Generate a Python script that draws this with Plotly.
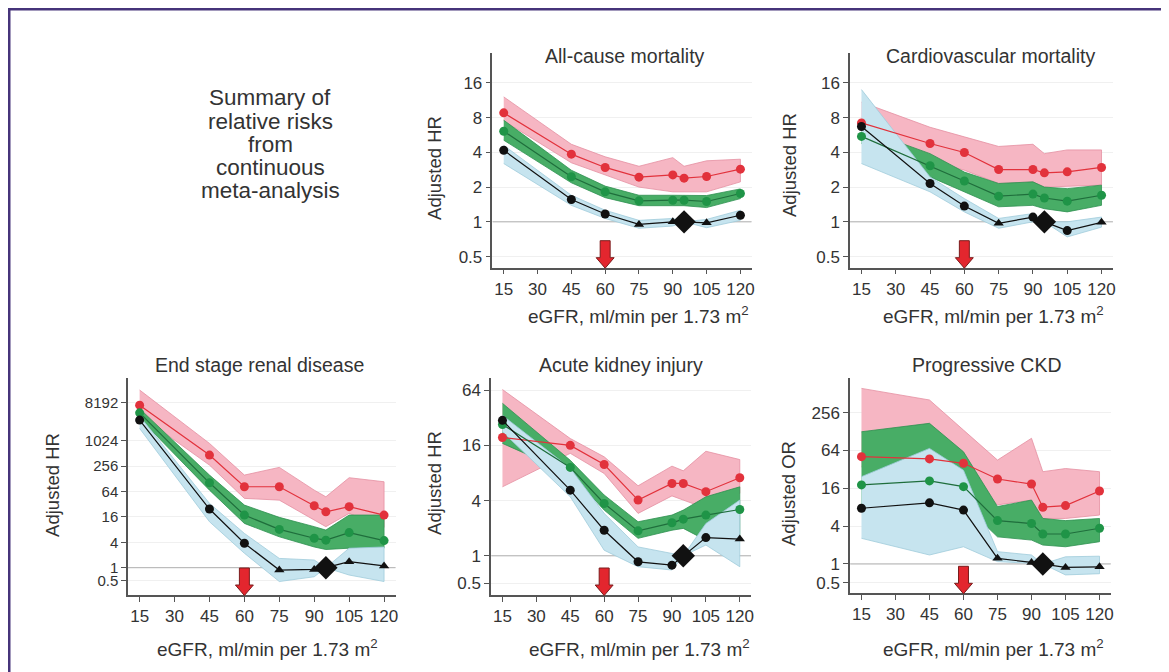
import math
import plotly.graph_objects as go

W, H = 1169, 672
OFF = 8  # page margin around the figure in the browser

# ---------------- data ----------------
egfr = [15, 45, 60, 75, 90, 95, 105, 120]
xtick_vals = [15, 30, 45, 60, 75, 90, 105, 120]
threshold = 60
reference_hr = 1

# All-cause mortality
acm_red = [8.8, 3.86, 2.96, 2.44, 2.55, 2.39, 2.47, 2.86]
acm_red_hi = [12.1, 4.7, 3.66, 3.03, 3.6, 3.03, 3.38, 3.49]
acm_red_lo = [7.5, 3.25, 2.54, 2.0, 1.82, 1.82, 1.82, 2.22]
acm_green = [6.1, 2.46, 1.82, 1.52, 1.54, 1.54, 1.5, 1.76]
acm_green_hi = [7.6, 2.8, 2.04, 1.7, 1.7, 1.7, 1.69, 1.93]
acm_green_lo = [5.1, 2.18, 1.62, 1.38, 1.38, 1.38, 1.33, 1.59]
acm_black = [4.17, 1.56, 1.17, 0.95, 1.0, 1.0, 0.98, 1.14]
acm_black_hi = [4.6, 1.7, 1.26, 1.03, 1.07, 1.0, 1.05, 1.26]
acm_black_lo = [3.2, 1.39, 1.07, 0.88, 0.92, 1.0, 0.89, 1.03]
acm_black_sig = [1, 1, 1, 0, 0, 2, 0, 1]

# Cardiovascular mortality
cvm_red = [7.2, 4.77, 3.99, 2.84, 2.84, 2.66, 2.71, 2.96]
cvm_red_hi = [10.9, 6.6, 5.45, 4.5, 4.7, 3.9, 4.2, 4.2]
cvm_red_lo = [6.0, 3.4, 2.8, 2.15, 2.22, 2.0, 2.03, 2.08]
cvm_green = [5.5, 3.06, 2.26, 1.67, 1.74, 1.61, 1.51, 1.7]
cvm_green_hi = [6.4, 3.9, 2.7, 2.15, 2.22, 2.0, 1.94, 2.08]
cvm_green_lo = [4.77, 2.45, 1.82, 1.35, 1.39, 1.3, 1.22, 1.39]
cvm_black = [6.7, 2.15, 1.37, 0.97, 1.1, 1.0, 0.84, 0.99]
cvm_black_hi = [14.0, 2.45, 1.59, 1.07, 1.18, 1.0, 1.0, 1.1]
cvm_black_lo = [3.2, 1.82, 1.22, 0.88, 1.0, 1.0, 0.74, 0.9]
cvm_black_sig = [1, 1, 1, 0, 1, 2, 1, 0]

# End stage renal disease
esrd_red = [7131, 468, 83, 83, 29.5, 21.2, 28, 17.7]
esrd_red_hi = [16300, 885, 157, 239, 69, 48, 136, 109]
esrd_red_lo = [4100, 271, 44, 40, 13.5, 9.4, 19.4, 9]
esrd_green = [4700, 103, 17.7, 8.1, 5.0, 4.5, 6.8, 4.4]
esrd_green_hi = [5900, 157, 30.5, 15.6, 9.4, 7.8, 17.7, 17.7]
esrd_green_lo = [3470, 69, 11.2, 5.4, 3.1, 2.7, 2.9, 2.9]
esrd_black = [3160, 24.6, 3.8, 0.88, 0.91, 1.0, 1.39, 1.1]
esrd_black_hi = [3930, 33.5, 6.5, 1.66, 1.52, 1.0, 2.9, 3.1]
esrd_black_lo = [2000, 12.3, 2.2, 0.47, 0.61, 1.0, 0.67, 0.47]
esrd_black_sig = [1, 1, 1, 0, 0, 2, 0, 0]

# Acute kidney injury
aki_red = [19.5, 16, 9.9, 4.05, 6.15, 6.15, 5.0, 7.1]
aki_red_hi = [65, 19, 12, 5.8, 9.5, 8.45, 13.8, 11.2]
aki_red_lo = [5.65, 13.1, 7.9, 2.9, 4.5, 4.05, 3.3, 4.8]
aki_green = [27, 9.2, 3.72, 1.87, 2.29, 2.51, 2.78, 3.2]
aki_green_hi = [46, 11, 4.6, 2.35, 2.78, 3.15, 4.4, 5.65]
aki_green_lo = [16.8, 7.9, 3.15, 1.55, 1.9, 1.99, 1.48, 1.5]
aki_black = [30, 5.2, 1.9, 0.86, 0.79, 1.0, 1.58, 1.52]
aki_black_hi = [34, 9.0, 2.9, 1.25, 1.06, 1.0, 2.25, 4.05]
aki_black_lo = [22.5, 4.4, 1.15, 0.76, 0.7, 1.0, 1.31, 0.76]
aki_black_sig = [1, 1, 1, 1, 1, 2, 1, 0]

# Progressive CKD
ckd_red = [51, 47, 40, 22.5, 18.7, 8, 8.5, 14.5]
ckd_red_hi = [622, 407, 135, 45, 100, 29.4, 33, 29.4]
ckd_red_lo = [35, 33, 28, 8.7, 10.4, 5.3, 5.3, 6.0]
ckd_green = [18.1, 21, 17, 4.9, 4.4, 3.0, 3.0, 3.7]
ckd_green_hi = [127, 173, 61, 8.2, 10.4, 5.3, 4.9, 5.3]
ckd_green_lo = [9, 11, 9, 2.7, 2.4, 2.0, 1.88, 2.26]
ckd_black = [7.7, 9.4, 7.2, 1.23, 1.06, 1.0, 0.88, 0.9]
ckd_black_hi = [24.5, 69, 31, 1.57, 1.39, 1.0, 1.3, 1.33]
ckd_black_lo = [2.56, 1.39, 1.88, 1.09, 1.02, 1.0, 0.67, 0.7]
ckd_black_sig = [1, 1, 1, 0, 0, 2, 0, 0]

titles = ["All-cause mortality", "Cardiovascular mortality", "End stage renal disease",
          "Acute kidney injury", "Progressive CKD"]
y_titles = ["Adjusted HR", "Adjusted HR", "Adjusted HR", "Adjusted HR", "Adjusted OR"]
y_tick_sets = [
    [0.5, 1, 2, 4, 8, 16],
    [0.5, 1, 2, 4, 8, 16],
    [0.5, 1, 4, 16, 64, 256, 1024, 8192],
    [0.5, 1, 4, 16, 64],
    [0.5, 1, 4, 16, 64, 256],
]
x_title = "eGFR, ml/min per 1.73 m<sup>2</sup>"
summary_lines = ["Summary of", "relative risks", "from", "continuous", "meta-analysis"]

series = [
    (acm_red, acm_red_hi, acm_red_lo, acm_green, acm_green_hi, acm_green_lo,
     acm_black, acm_black_hi, acm_black_lo, acm_black_sig),
    (cvm_red, cvm_red_hi, cvm_red_lo, cvm_green, cvm_green_hi, cvm_green_lo,
     cvm_black, cvm_black_hi, cvm_black_lo, cvm_black_sig),
    (esrd_red, esrd_red_hi, esrd_red_lo, esrd_green, esrd_green_hi, esrd_green_lo,
     esrd_black, esrd_black_hi, esrd_black_lo, esrd_black_sig),
    (aki_red, aki_red_hi, aki_red_lo, aki_green, aki_green_hi, aki_green_lo,
     aki_black, aki_black_hi, aki_black_lo, aki_black_sig),
    (ckd_red, ckd_red_hi, ckd_red_lo, ckd_green, ckd_green_hi, ckd_green_lo,
     ckd_black, ckd_black_hi, ckd_black_lo, ckd_black_sig),
]

# ---------------- layout geometry (page pixels) ----------------
geom = [
    dict(x0=493.7, x1=753.6, yt=53, yb=267.7, lr=(-1.32, 4.86), tfs=17,
         title=(627, 56), ytit=(435, 168), xtit=(640, 315)),
    dict(x0=852.2, x1=1115.8, yt=53, yb=267.7, lr=(-1.32, 4.86), tfs=17,
         title=(993, 56), ytit=(792, 165), xtit=(996, 315)),
    dict(x0=128.3, x1=396.7, yt=378, yb=595, lr=(-2.15, 14.94), tfs=15,
         title=(260, 365), ytit=(52, 485), xtit=(268, 648)),
    dict(x0=492.4, x1=753.0, yt=378, yb=595, lr=(-1.42, 6.44), tfs=17,
         title=(623, 365), ytit=(435, 483), xtit=(641, 648)),
    dict(x0=852.3, x1=1113.7, yt=378, yb=593.3, lr=(-1.55, 9.83), tfs=17,
         title=(990, 365), ytit=(790, 493), xtit=(996, 648)),
]
XR = (10, 125)

def px(x):
    return (x - OFF) / W

def py(y):
    return 1 - (y - OFF) / H

FONT = "Liberation Sans, Arial, Helvetica, sans-serif"
TXT = "#333333"
RED, RED_FILL, RED_EDGE = "#e2323c", "#f6b6c3", "#e58fa1"
GRN, GRN_LINE, GRN_FILL, GRN_EDGE = "#1f9447", "#1f6e3c", "#48ad66", "#2f9150"
BLK, BLU_FILL, BLU_EDGE = "#111111", "#c6e4ef", "#9fcbdb"

fig = go.Figure()
shapes = []
annotations = []

for i, (g, s) in enumerate(zip(geom, series)):
    n = "" if i == 0 else str(i + 1)
    xa, ya = "x" + n, "y" + n
    (r, rh, rl, gr, gh, gl, b, bh, bl, bsig) = s

    fig.add_trace(go.Scatter(x=list(XR), y=[reference_hr, reference_hr], mode="lines",
                             line=dict(color="#b0b0b0", width=1), hoverinfo="skip",
                             showlegend=False, xaxis=xa, yaxis=ya))
    for hi, lo, fc, ec in [(rh, rl, RED_FILL, RED_EDGE), (gh, gl, GRN_FILL, GRN_EDGE),
                           (bh, bl, BLU_FILL, BLU_EDGE)]:
        fig.add_trace(go.Scatter(x=egfr + egfr[::-1], y=hi + lo[::-1], mode="lines",
                                 fill="toself", fillcolor=fc,
                                 line=dict(color=ec, width=0.8), hoverinfo="skip",
                                 showlegend=False, xaxis=xa, yaxis=ya))
    fig.add_trace(go.Scatter(x=egfr, y=r, mode="lines+markers",
                             line=dict(color=RED, width=1.2),
                             marker=dict(color=RED, size=9, symbol="circle", opacity=1),
                             showlegend=False, xaxis=xa, yaxis=ya))
    fig.add_trace(go.Scatter(x=egfr, y=gr, mode="lines+markers",
                             line=dict(color=GRN_LINE, width=1.2),
                             marker=dict(color=GRN, size=9, symbol="circle", opacity=1),
                             showlegend=False, xaxis=xa, yaxis=ya))
    sym_map = {0: "triangle-up", 1: "circle", 2: "diamond"}
    size_map = {0: 9, 1: 9, 2: 18}
    fig.add_trace(go.Scatter(x=egfr, y=b, mode="lines+markers",
                             line=dict(color=BLK, width=1.2),
                             marker=dict(color=BLK, opacity=1,
                                         size=[size_map[k] for k in bsig],
                                         symbol=[sym_map[k] for k in bsig],
                                         line=dict(color=BLK, width=0)),
                             showlegend=False, xaxis=xa, yaxis=ya))

    yticks = y_tick_sets[i]
    axis_common = dict(showline=True, linecolor="#555555", linewidth=1.5,
                       ticks="outside", ticklen=5, tickwidth=1.3, tickcolor="#555555",
                       zeroline=False)
    fig.update_layout(**{
        ("xaxis" + n): dict(domain=[px(g["x0"]), px(g["x1"])], range=list(XR),
                            tickvals=xtick_vals, showgrid=False, anchor=ya,
                            tickfont=dict(family=FONT, size=17, color=TXT), **axis_common),
        ("yaxis" + n): dict(domain=[py(g["yb"]), py(g["yt"])], type="log",
                            range=[g["lr"][0] * math.log10(2), g["lr"][1] * math.log10(2)],
                            tickvals=yticks, ticktext=[("%g" % v) for v in yticks],
                            showgrid=True, gridcolor="#f0f0f0", gridwidth=1,
                            tickfont=dict(family=FONT, size=g["tfs"], color=TXT),
                            anchor=xa, **axis_common),
    })

    # red threshold arrow at eGFR 60
    ppu = (g["x1"] - g["x0"]) / (XR[1] - XR[0])
    sw, hw = 5 / ppu, 9 / ppu
    ytip, yhead, ytop = py(g["yb"] + 0.5), py(g["yb"] - 10), py(g["yb"] - 27)
    path = (f"M {threshold - sw},{ytop} L {threshold + sw},{ytop} L {threshold + sw},{yhead} "
            f"L {threshold + hw},{yhead} L {threshold},{ytip} L {threshold - hw},{yhead} "
            f"L {threshold - sw},{yhead} Z")
    shapes.append(dict(type="path", path=path, xref=xa, yref="paper",
                       fillcolor="#e3262e", line=dict(color="#7a1c1c", width=1)))

    annotations.append(dict(text=titles[i], x=px(g["title"][0]), y=py(g["title"][1]),
                            xref="paper", yref="paper", showarrow=False,
                            xanchor="center", yanchor="middle",
                            font=dict(family=FONT, size=19.5, color=TXT)))
    annotations.append(dict(text=y_titles[i], x=px(g["ytit"][0]), y=py(g["ytit"][1]),
                            xref="paper", yref="paper", showarrow=False, textangle=-90,
                            xanchor="center", yanchor="middle",
                            font=dict(family=FONT, size=18.5, color=TXT)))
    annotations.append(dict(text=x_title, x=px(g["xtit"][0]), y=py(g["xtit"][1]),
                            xref="paper", yref="paper", showarrow=False,
                            xanchor="center", yanchor="middle",
                            font=dict(family=FONT, size=19, color=TXT)))

for k, line in enumerate(summary_lines):
    annotations.append(dict(text=line, x=px(271), y=py(98 + 23.2 * k), xref="paper",
                            yref="paper", showarrow=False, xanchor="center",
                            yanchor="middle", font=dict(family=FONT, size=22.5, color=TXT)))

# purple frame (top and left edges visible)
shapes.append(dict(type="rect", xref="paper", yref="paper", x0=0, x1=1.0,
                   y0=py(10.5), y1=1.0, fillcolor="#46347a", line=dict(width=0)))
shapes.append(dict(type="rect", xref="paper", yref="paper", x0=0, x1=px(10.5),
                   y0=0, y1=1.0, fillcolor="#46347a", line=dict(width=0)))

fig.update_layout(width=W, height=H, margin=dict(l=0, r=0, t=0, b=0),
                  paper_bgcolor="white", plot_bgcolor="white",
                  shapes=shapes, annotations=annotations, showlegend=False,
                  font=dict(family=FONT, color=TXT))

fig.write_html("out.html")
